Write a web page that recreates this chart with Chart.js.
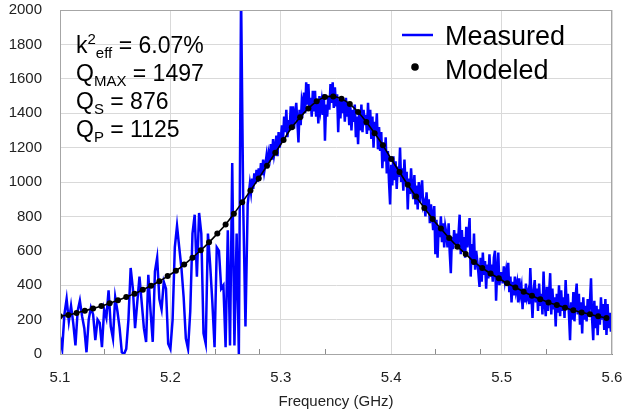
<!DOCTYPE html>
<html>
<head>
<meta charset="utf-8">
<script src="https://cdn.jsdelivr.net/npm/chart.js@4/dist/chart.umd.min.js"></script>
<style>
html,body{margin:0;padding:0;background:#fff;}
#wrap{width:623px;height:415px;}
</style>
</head>
<body>
<div id="wrap"><canvas id="c" width="623" height="415"></canvas></div>
<script>
// ---- data ----
// Measured Q, part 1: 5.100 .. 5.270 GHz, every 0.002 GHz
const measuredLeftStart = 5.1;
const measuredLeftStep = 0.002;
const measuredLeftQ = [
100,30,230,320,190,280,180,50,250,310,220,150,10,200,270,230,80,200,180,40,
260,210,370,160,90,330,250,150,10,0,30,200,500,380,150,300,450,300,
150,70,460,250,70,480,560,320,260,420,380,60,30,200,620,745,620,500,330,90,
30,250,700,810,450,820,700,120,60,700,520,300,40,620,600,380,400,40,720,50,
1110,50,700,0,2100,850,160,870
];
// Measured Q, part 2: 5.272 .. 5.600 GHz, every 0.001 GHz
const measuredRightStart = 5.272;
const measuredRightStep = 0.001;
const measuredRightQ = [
990,940,1020,960,1050,990,1070,1000,
1080,1020,1110,1040,1130,1060,1100,1150,1080,1170,
1140,1220,1130,1250,1160,1200,1270,1150,1290,1200,
1250,1330,1240,1380,1290,1420,1260,1360,1300,1440,
1330,1440,1310,1400,1460,1350,1230,1420,1330,1470,
1430,1520,1400,1580,1450,1570,1420,1490,1380,1530,
1410,1530,1380,1480,1340,1500,1420,1470,1390,1510,
1240,1450,1380,1500,1420,1570,1460,1580,1430,1550,
1440,1510,1290,1480,1370,1500,1400,1470,1350,1490,
1380,1460,1330,1440,1300,1420,1350,1450,1260,1380,
1220,1410,1300,1450,1290,1420,1330,1390,1280,1460,
1300,1420,1250,1380,1200,1350,1280,1400,1190,1320,
1180,1290,1080,1230,1120,1260,1050,1180,1000,870,
1100,980,1150,1010,1120,960,1090,1030,1200,1000,
1080,950,1130,990,1060,840,1020,930,1080,960,
900,1040,870,980,840,1000,880,950,1010,860,
880,800,940,830,900,760,870,810,720,860,
580,780,560,740,680,800,650,760,620,740,
700,620,760,590,470,680,610,720,640,700,
620,700,810,580,720,600,680,560,740,620,
700,790,450,640,520,700,490,600,540,470,
390,560,420,590,460,540,380,520,440,580,
450,520,420,560,600,310,480,590,400,470,
470,410,510,430,480,400,530,360,450,300,
420,340,450,370,410,300,440,350,390,260,
380,300,410,330,360,290,500,340,210,370,
430,300,380,250,410,280,350,230,480,300,
220,390,250,350,470,230,380,260,330,160,
350,240,400,220,370,250,330,210,430,280,
350,230,80,300,200,360,190,330,410,230,
350,170,300,120,330,200,280,190,320,230,
300,440,200,80,310,150,280,110,260,170,
330,200,290,140,320,110,290,150,240,130,200
];
// Modeled Q: 5.100 .. 5.595 GHz, every 0.0075 GHz
const modelStart = 5.1;
const modelStep = 0.0075;
const modeledQ = [
220,227,238,251,265,279,295,312,331,351,374,397,423,453,484,520,560,603,649,700,
753,815,882,950,1021,1095,1170,1244,1318,1376,1428,1469,1494,1497,1484,1453,1407,1349,1283,1213,
1134,1058,984,915,849,785,729,674,624,582,535,500,468,440,411,387,362,339,318,300,
285,269,254,242,231,219,209
];
const xTickValues = [5.1, 5.2, 5.3, 5.4, 5.5, 5.6];
const yTickValues = [0,200,400,600,800,1000,1200,1400,1600,1800,2000];
const minorTickFreqs = [5.14, 5.24, 5.28, 5.34, 5.44, 5.48, 5.54];
const seriesNames = ["Measured", "Modeled"];
const annotationLines = [
  [["k",""],["2","sup"],["eff","sub"],[" = 6.07%",""]],
  [["Q",""],["MAX","sub"],[" = 1497",""]],
  [["Q",""],["S","sub"],[" = 876",""]],
  [["Q",""],["P","sub"],[" = 1125",""]]
];

// ---- build library data ----
const measuredData = measuredLeftQ.map((q, i) => ({x: +(measuredLeftStart + i*measuredLeftStep).toFixed(4), y: q}))
  .concat(measuredRightQ.map((q, i) => ({x: +(measuredRightStart + i*measuredRightStep).toFixed(4), y: q})));
const modeledData = modeledQ.map((q, i) => ({x: +(modelStart + i*modelStep).toFixed(4), y: q}));

const FONT = "'Liberation Sans', Arial, sans-serif";

const decorPlugin = {
  id: 'decor',
  afterDatasetsDraw(chart) {
    const ctx = chart.ctx, a = chart.chartArea;
    const xs = chart.scales.x;
    ctx.save();
    ctx.strokeStyle = '#a6a6a6';
    ctx.lineWidth = 1;
    ctx.strokeRect(a.left + 0.5, a.top + 0.5, a.right - a.left - 1, a.bottom - a.top);
    ctx.strokeStyle = '#8c8c8c';
    minorTickFreqs.forEach(f => {
      const px = Math.round(xs.getPixelForValue(f)) + 0.5;
      ctx.beginPath(); ctx.moveTo(px, a.bottom); ctx.lineTo(px, a.bottom - 5); ctx.stroke();
    });
    ctx.fillStyle = '#000';
    ctx.textBaseline = 'alphabetic';
    ctx.textAlign = 'left';
    const baseY = 53, lineGap = 28, x0 = 76;
    annotationLines.forEach((segs, li) => {
      let x = x0; const y = baseY + li*lineGap;
      segs.forEach(([t, kind]) => {
        if (kind === 'sup') { ctx.font = '15px ' + FONT; ctx.fillText(t, x, y - 9); }
        else if (kind === 'sub') { ctx.font = '15px ' + FONT; ctx.fillText(t, x, y + 5); }
        else { ctx.font = '23px ' + FONT; ctx.fillText(t, x, y); }
        x += ctx.measureText(t).width;
      });
    });
    ctx.font = '27px ' + FONT;
    ctx.strokeStyle = '#0000ff'; ctx.lineWidth = 2.5;
    ctx.beginPath(); ctx.moveTo(402, 35); ctx.lineTo(433, 35); ctx.stroke();
    ctx.fillText(seriesNames[0], 445, 45);
    ctx.beginPath(); ctx.arc(415, 67, 3.8, 0, Math.PI*2); ctx.fill();
    ctx.fillText(seriesNames[1], 445, 79);
    ctx.restore();
  }
};

function noPad(s) { s.paddingTop = 0; s.paddingBottom = 0; s.paddingLeft = 0; s.paddingRight = 0; }

new Chart(document.getElementById('c'), {
  type: 'line',
  data: {
    datasets: [
      { label: seriesNames[0], data: measuredData, borderColor: '#0000ff', borderWidth: 2.5,
        pointRadius: 0, tension: 0, order: 2 },
      { label: seriesNames[1], data: modeledData, borderColor: '#000', backgroundColor: '#000',
        borderWidth: 1.6, pointRadius: 3, pointBackgroundColor: '#000', pointBorderWidth: 0,
        tension: 0.3, order: 1 }
    ]
  },
  options: {
    responsive: false,
    animation: false,
    devicePixelRatio: 1,
    layout: { autoPadding: false, padding: { top: 10, right: 11, bottom: 0, left: 0 } },
    plugins: { legend: { display: false }, tooltip: { enabled: false } },
    scales: {
      x: {
        type: 'linear', min: 5.1, max: 5.6,
        afterFit(s) { s.height = 61; noPad(s); },
        afterBuildTicks(s) { s.ticks = xTickValues.map(v => ({value: v})); },
        ticks: { padding: 15, color: '#222', font: { size: 15, family: FONT },
                 callback: v => Number(v).toFixed(1), maxRotation: 0, autoSkip: false },
        grid: { color: '#d9d9d9', drawTicks: false, lineWidth: 1 },
        border: { color: '#8c8c8c', width: 1 },
        title: { display: true, text: 'Frequency (GHz)', color: '#222',
                 font: { size: 15, family: FONT }, padding: { top: 0, bottom: 4 } }
      },
      y: {
        min: 0, max: 2000,
        afterFit(s) { s.width = 60; noPad(s); },
        afterBuildTicks(s) { s.ticks = yTickValues.map(v => ({value: v})); },
        ticks: { padding: 18, color: '#222', font: { size: 15, family: FONT },
                 callback: v => String(v), autoSkip: false },
        grid: { color: '#d9d9d9', drawTicks: false, lineWidth: 1 },
        border: { color: '#8c8c8c', width: 1 }
      }
    }
  },
  plugins: [decorPlugin]
});
</script>
</body>
</html>
